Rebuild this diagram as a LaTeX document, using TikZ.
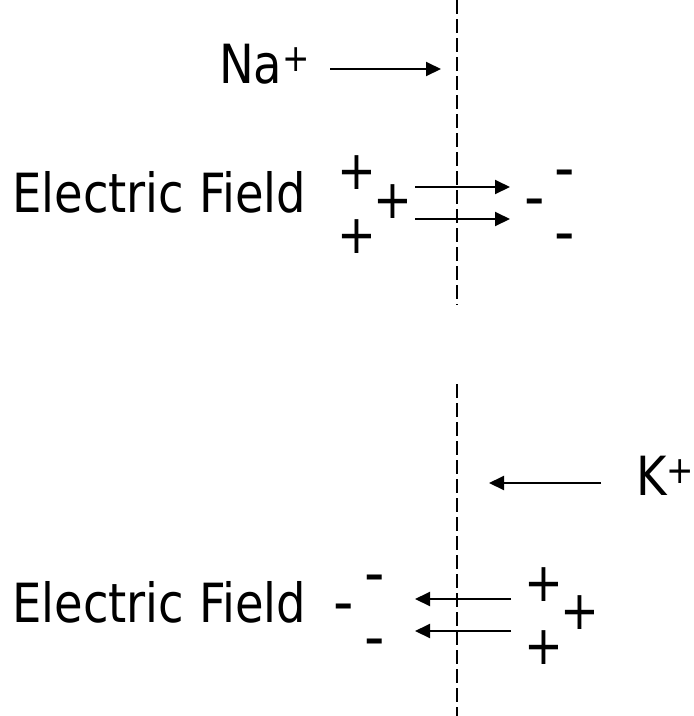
\documentclass[tikz,border=0pt]{standalone}
\usepackage{fontspec}
\setmainfont[FakeStretch=0.86]{DejaVu Sans}
\newfontfamily\plainsans{DejaVu Sans}
\usetikzlibrary{arrows.meta}
\tikzset{
  lbl/.style={anchor=base west, inner sep=0pt, font=\fontsize{54}{60}\selectfont},
  chg/.style={anchor=mid, inner sep=0pt, yshift=-15pt, font=\fontsize{54}{60}\selectfont},
  membrane/.style={line width=1.3pt, dash pattern=on 14pt off 5pt},
  fieldarrow/.style={line width=2pt, -{Triangle[length=15pt,width=14pt]}}
}
\newcommand{\supplus}{\raisebox{12pt}{\fontsize{38}{40}\selectfont +}}
\newcommand{\mns}{\scalebox{1.05}[1.15]{\plainsans -}}
\begin{document}
\begin{tikzpicture}[x=1pt,y=-1pt]
\useasboundingbox (0,0) rectangle (694,716);
% membranes
\coordinate (m1a) at (457,0);
\coordinate (m1b) at (457,305);
\coordinate (m2a) at (457,384);
\coordinate (m2b) at (457,716);
\draw[membrane] (m1a) -- (m1b);
\draw[membrane] (m2a) -- (m2b);
% top panel
\node[lbl] (na) at (219,83) {Na\supplus};
\coordinate (naS) at (330,69);
\coordinate (naE) at (441,69);
\draw[fieldarrow] (naS) -- (naE);
\node[lbl] (ef1) at (12,212) {Electric Field};
\node[chg] (p1) at (357,172) {+};
\node[chg] (p2) at (393,201) {+};
\node[chg] (p3) at (357,236) {+};
\node[chg] (n1) at (535,201) {\mns};
\node[chg] (n2) at (565,172) {\mns};
\node[chg] (n3) at (565,236) {\mns};
\coordinate (a1s) at (415,187);
\coordinate (a1e) at (510,187);
\coordinate (a2s) at (415,219);
\coordinate (a2e) at (510,219);
\draw[fieldarrow] (a1s) -- (a1e);
\draw[fieldarrow] (a2s) -- (a2e);
% bottom panel
\node[lbl] (k) at (636,495) {K\supplus};
\coordinate (kS) at (601,483);
\coordinate (kE) at (489,483);
\draw[fieldarrow] (kS) -- (kE);
\node[lbl] (ef2) at (12,622) {Electric Field};
\node[chg] (q1) at (344,606) {\mns};
\node[chg] (q2) at (375,577) {\mns};
\node[chg] (q3) at (375,641) {\mns};
\node[chg] (r1) at (544,584) {+};
\node[chg] (r2) at (580,612) {+};
\node[chg] (r3) at (544,647) {+};
\coordinate (b1s) at (511,599);
\coordinate (b1e) at (415,599);
\coordinate (b2s) at (511,631);
\coordinate (b2e) at (415,631);
\draw[fieldarrow] (b1s) -- (b1e);
\draw[fieldarrow] (b2s) -- (b2e);
\end{tikzpicture}
\end{document}
